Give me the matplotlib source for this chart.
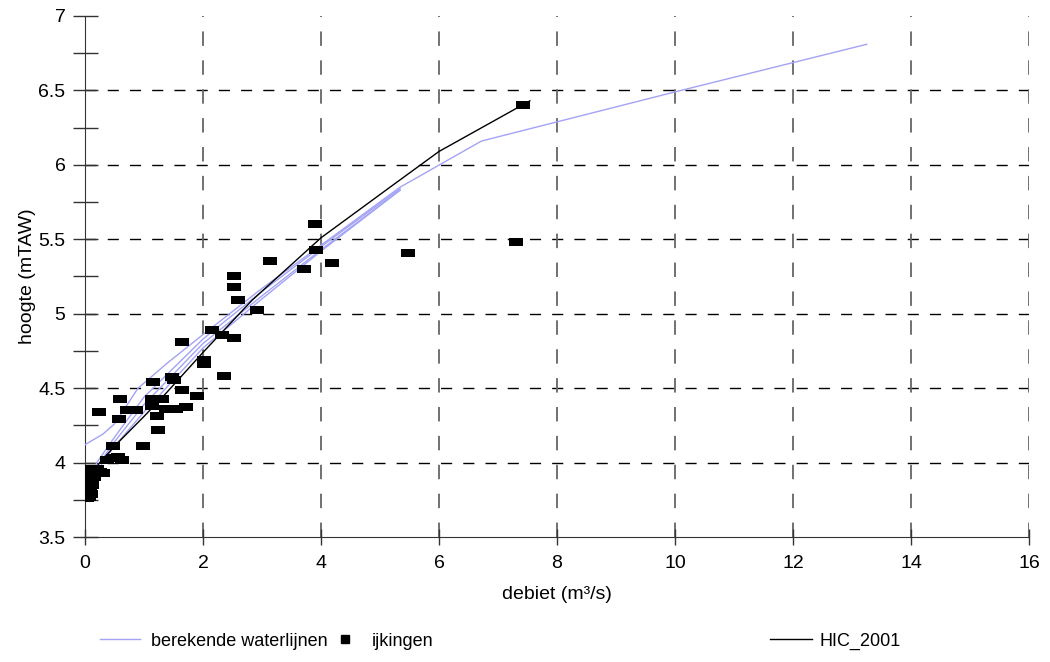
import matplotlib
matplotlib.use("Agg")
import matplotlib.pyplot as plt
from matplotlib.lines import Line2D
from matplotlib.path import Path
from matplotlib.ticker import MultipleLocator

plt.rcParams['font.family'] = ['Liberation Sans', 'DejaVu Sans']
plt.rcParams['font.size'] = 13

# berekende waterlijnen (several computed stage-discharge lines)
wl1_q = [0.0, 0.3, 0.5, 0.9, 1.4, 2.0, 3.0, 4.0, 5.34, 6.72, 10.0, 13.25]
wl1_h = [4.12, 4.19, 4.26, 4.50, 4.67, 4.86, 5.17, 5.46, 5.85, 6.16, 6.49, 6.81]
wl2_q = [0.05, 0.2, 0.5, 1.0, 2.0, 3.0, 4.0, 5.34]
wl2_h = [3.85, 4.00, 4.17, 4.44, 4.83, 5.15, 5.45, 5.84]
wl3_q = [0.08, 0.25, 0.5, 1.0, 2.0, 3.0, 4.0, 5.34]
wl3_h = [3.85, 4.00, 4.14, 4.39, 4.80, 5.12, 5.43, 5.83]
wl4_q = [0.1, 0.3, 0.5, 1.0, 2.0, 3.0, 4.0, 5.34]
wl4_h = [3.85, 4.00, 4.11, 4.34, 4.77, 5.10, 5.42, 5.83]

# HIC_2001 rating curve
hic_q = [0.0, 0.05, 0.12, 0.23, 0.5, 1.0, 1.36, 2.0, 2.83, 4.0, 5.17, 6.0, 7.54]
hic_h = [3.76, 3.84, 3.91, 3.99, 4.11, 4.31, 4.46, 4.74, 5.09, 5.51, 5.85, 6.09, 6.43]

# ijkingen (measurements)
ijk_q = [7.42, 3.89, 3.91, 3.71, 4.18, 5.48, 7.30,
         3.14, 2.52, 2.53, 2.60, 2.91,
         2.16, 2.33, 2.53, 1.65, 2.02, 2.02, 2.36,
         1.16, 1.47, 1.50, 1.64, 1.90,
         0.59, 1.13, 1.30,
         0.24, 0.72, 0.86, 1.14, 1.22, 1.38, 1.55, 1.71,
         0.58, 1.23, 0.99, 0.47,
         0.38, 0.47, 0.56, 0.62,
         0.31, 0.25,
         0.0, 0.03, 0.06, 0.10, 0.08, 0.05, 0.12, 0.03, 0.08, 0.15,
         0.05, 0.10, 0.18, 0.13, 0.20, 0.08]
ijk_h = [6.40, 5.60, 5.43, 5.30, 5.34, 5.41, 5.48,
         5.355, 5.255, 5.18, 5.09, 5.025,
         4.888, 4.858, 4.84, 4.81, 4.69, 4.66, 4.58,
         4.54, 4.575, 4.555, 4.49, 4.45,
         4.43, 4.43, 4.43,
         4.34, 4.35, 4.35, 4.38, 4.31, 4.36, 4.36, 4.37,
         4.29, 4.22, 4.11, 4.11,
         4.02, 4.03, 4.04, 4.02,
         3.93, 3.94,
         3.76, 3.76, 3.77, 3.79, 3.82, 3.85, 3.85, 3.88, 3.89, 3.90,
         3.92, 3.93, 3.94, 3.95, 3.96, 3.96]

blue = '#a3a3f5'
rect = Path([(-1, -0.6), (1, -0.6), (1, 0.6), (-1, 0.6), (-1, -0.6)],
            [Path.MOVETO, Path.LINETO, Path.LINETO, Path.LINETO, Path.CLOSEPOLY])

fig = plt.figure(figsize=(10.5, 6.62), dpi=100)
ax = fig.add_axes([85/1050, 1-537/662, (1029-85)/1050, (537-16)/662])

# dashed grid, no line at the top (7)
for yv in [4, 4.5, 5, 5.5, 6, 6.5]:
    ax.axhline(yv, color='black', linestyle=(0, (8, 8)), lw=1, zorder=1)
for xv in range(2, 17, 2):
    ax.axvline(xv, color='#666666', linestyle=(0, (8, 8)), lw=1.3, zorder=1)

for q, h in [(wl1_q, wl1_h), (wl2_q, wl2_h), (wl3_q, wl3_h), (wl4_q, wl4_h)]:
    ax.plot(q, h, color=blue, lw=1.0, zorder=3)
ax.plot(hic_q, hic_h, color='black', lw=1.0, zorder=4)
ax.scatter(ijk_q, ijk_h, marker=rect, s=110, color='black', linewidths=0, zorder=5)

ax.set_xlim(0, 16)
ax.set_ylim(3.5, 7)
ax.xaxis.set_major_locator(MultipleLocator(2))
ax.yaxis.set_major_locator(MultipleLocator(0.5))
ax.yaxis.set_minor_locator(MultipleLocator(0.25))
ax.yaxis.set_major_formatter(plt.FuncFormatter(lambda v, p: ('%g' % v)))

for s in ['top', 'right']:
    ax.spines[s].set_visible(False)
ax.spines['left'].set_color('#333333')
ax.spines['bottom'].set_color('#333333')

ax.tick_params(axis='y', which='both', direction='inout', length=18, width=1, color='#333333', pad=5)
ax.tick_params(axis='x', which='major', direction='inout', length=12, width=1, color='#333333', pad=7)
ax.tick_params(axis='both', labelsize=14)

ax.set_xlabel('debiet (m³/s)', fontsize=14, labelpad=10)
ax.set_ylabel('hoogte (mTAW)', fontsize=14, labelpad=2)

# legend row below the chart
yl = 1 - 641/662
fig.legend(handles=[Line2D([], [], color=blue, lw=1)], labels=['berekende waterlijnen'],
           loc='center left', bbox_to_anchor=(100/1050, yl), frameon=False,
           borderpad=0, borderaxespad=0, handlelength=2.2, handletextpad=0.6, fontsize=13)
fig.legend(handles=[Line2D([], [], color='black', marker='s', ms=6, lw=0)], labels=['ijkingen'],
           loc='center left', bbox_to_anchor=(337/1050, yl), frameon=False,
           borderpad=0, borderaxespad=0, handlelength=0.9, handletextpad=1.05, fontsize=13)
fig.legend(handles=[Line2D([], [], color='black', lw=1)], labels=['HIC_2001'],
           loc='center left', bbox_to_anchor=(770/1050, yl), frameon=False,
           borderpad=0, borderaxespad=0, handlelength=2.3, handletextpad=0.45, fontsize=13)

fig.savefig('out.png', dpi=100)
